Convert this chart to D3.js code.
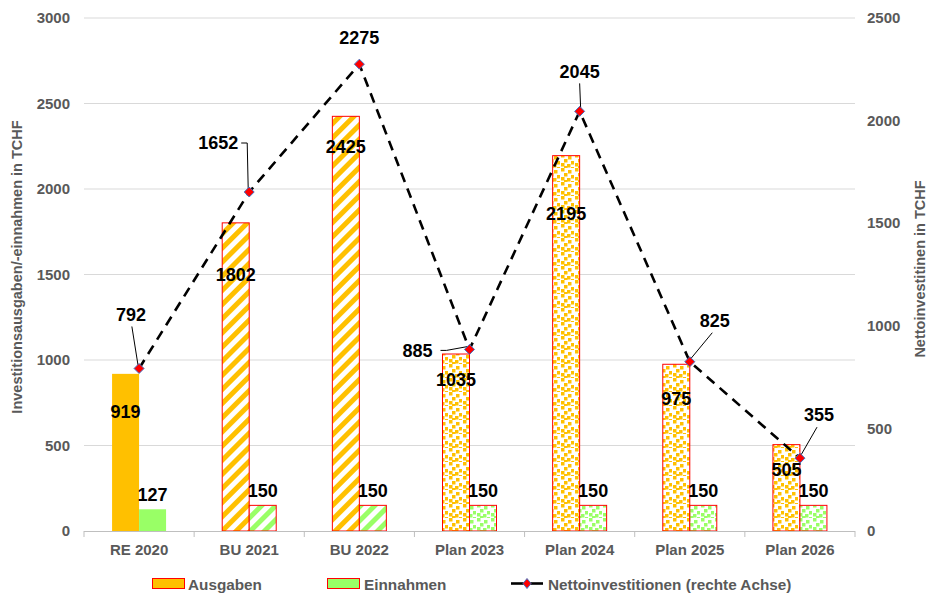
<!DOCTYPE html>
<html>
<head>
<meta charset="utf-8">
<script src="https://cdn.jsdelivr.net/npm/d3@7"></script>
<style>
  html, body { margin: 0; padding: 0; background: #fff; }
  svg { display: block; font-family: "Liberation Sans", Arial, sans-serif; }
</style>
</head>
<body>
<svg id="chart" width="928" height="593"></svg>
<script>
// Investment spending, income and net investment per year
const categories = ["RE 2020", "BU 2021", "BU 2022", "Plan 2023", "Plan 2024", "Plan 2025", "Plan 2026"];
const ausgaben   = [919, 1802, 2425, 1035, 2195, 975, 505];
const einnahmen  = [127, 150, 150, 150, 150, 150, 150];
const netto      = [792, 1652, 2275, 885, 2045, 825, 355];
// fill style per year: actual, budget, plan
const fillKind   = ["solid", "stripe", "stripe", "dots", "dots", "dots", "dots"];
const leftTicks  = [0, 500, 1000, 1500, 2000, 2500, 3000];
const rightTicks = [0, 500, 1000, 1500, 2000, 2500];

// label layout (pixel offsets)
const ausgabenLabelDy = [38, 52, 30, 26, 58, 34, 25];
const nettoLabelOffset = [[-8, -54], [-31, -49], [0, -26], [-52, 1], [0, -40], [25, -41], [19, -43]];
const nettoLeaderSide  = [false, true, false, true, false, false, false];
const nettoLeaderShow  = [true, true, false, true, true, true, true];

const svg = d3.select("#chart");
const plot = { left: 84, right: 855, top: 18, bottom: 531 };

const x = d3.scaleBand().domain(categories).range([plot.left, plot.right]);
const yL = d3.scaleLinear().domain([0, 3000]).range([plot.bottom, plot.top]);
const yR = d3.scaleLinear().domain([0, 2500]).range([plot.bottom, plot.top]);
const barW = 27;

const ORANGE = "#FFC000", GREEN = "#99FF66", RED = "#FF0000", GREY = "#595959";

// patterns
const defs = svg.append("defs");
function stripePattern(id, color) {
  const p = defs.append("pattern").attr("id", id).attr("patternUnits", "userSpaceOnUse")
    .attr("width", 10).attr("height", 10).attr("patternTransform", "rotate(45)");
  p.append("rect").attr("width", 10).attr("height", 10).attr("fill", "#fff");
  p.append("rect").attr("x", 0).attr("width", 5).attr("height", 10).attr("fill", color);
}
function dotPattern(id, color) {
  const p = defs.append("pattern").attr("id", id).attr("patternUnits", "userSpaceOnUse")
    .attr("width", 14).attr("height", 14);
  p.append("rect").attr("width", 14).attr("height", 14).attr("fill", "#fff");
  [[1, 0], [8, 2], [4, 5], [11, 7], [1, 9], [7, 10], [11, 13], [4, 12]].forEach(([a, b]) => {
    p.append("rect").attr("x", a).attr("y", b).attr("width", 3.5).attr("height", 3.5).attr("fill", color);
  });
}
stripePattern("stripeOrange", ORANGE);
stripePattern("stripeGreen", GREEN);
dotPattern("dotsOrange", ORANGE);
dotPattern("dotsGreen", GREEN);

function fillFor(kind, series) {
  if (kind === "solid") return series === "a" ? ORANGE : GREEN;
  if (kind === "stripe") return series === "a" ? "url(#stripeOrange)" : "url(#stripeGreen)";
  return series === "a" ? "url(#dotsOrange)" : "url(#dotsGreen)";
}

// gridlines
svg.append("g").selectAll("line").data(leftTicks.filter(d => d > 0)).join("line")
  .attr("x1", plot.left).attr("x2", plot.right)
  .attr("y1", d => yL(d)).attr("y2", d => yL(d))
  .attr("stroke", "#d9d9d9").attr("stroke-width", 1);

// left axis labels
svg.append("g").selectAll("text").data(leftTicks).join("text")
  .attr("x", 70).attr("y", d => yL(d)).attr("dy", "0.35em")
  .attr("text-anchor", "end").attr("font-size", 15).attr("font-weight", "bold").attr("fill", GREY)
  .text(d => d);

// right axis labels
svg.append("g").selectAll("text").data(rightTicks).join("text")
  .attr("x", 867).attr("y", d => yR(d)).attr("dy", "0.35em")
  .attr("text-anchor", "start").attr("font-size", 15).attr("font-weight", "bold").attr("fill", GREY)
  .text(d => d);

// axis titles
svg.append("text").attr("transform", "translate(22,267) rotate(-90)")
  .attr("text-anchor", "middle").attr("font-size", 14.5).attr("font-weight", "bold").attr("fill", GREY)
  .text("Investitionsausgaben/-einnahmen in TCHF");
svg.append("text").attr("transform", "translate(925,269) rotate(-90)")
  .attr("text-anchor", "middle").attr("font-size", 14.5).attr("font-weight", "bold").attr("fill", GREY)
  .text("Nettoinvestitinen in TCHF");

// bars
const bars = svg.append("g");
categories.forEach((c, i) => {
  const cx = x(c) + x.bandwidth() / 2;
  const solid = fillKind[i] === "solid";
  bars.append("rect")
    .attr("x", cx - barW).attr("y", yL(ausgaben[i]))
    .attr("width", barW).attr("height", yL(0) - yL(ausgaben[i]))
    .attr("fill", fillFor(fillKind[i], "a"))
    .attr("stroke", solid ? "none" : RED).attr("stroke-width", 1);
  bars.append("rect")
    .attr("x", cx).attr("y", yL(einnahmen[i]))
    .attr("width", barW).attr("height", yL(0) - yL(einnahmen[i]))
    .attr("fill", fillFor(fillKind[i], "e"))
    .attr("stroke", solid ? "none" : RED).attr("stroke-width", 1);
});

// x axis line and ticks
svg.append("line").attr("x1", plot.left).attr("x2", plot.right)
  .attr("y1", plot.bottom + 0.5).attr("y2", plot.bottom + 0.5)
  .attr("stroke", "#bfbfbf").attr("stroke-width", 1);
svg.append("g").selectAll("line").data(d3.range(categories.length + 1)).join("line")
  .attr("x1", i => plot.left + i * x.step()).attr("x2", i => plot.left + i * x.step())
  .attr("y1", plot.bottom).attr("y2", plot.bottom + 6)
  .attr("stroke", "#bfbfbf").attr("stroke-width", 1);
svg.append("g").selectAll("text").data(categories).join("text")
  .attr("x", d => x(d) + x.bandwidth() / 2).attr("y", 550).attr("dy", "0.35em")
  .attr("text-anchor", "middle").attr("font-size", 15).attr("font-weight", "bold").attr("fill", GREY)
  .text(d => d);

// bar value labels
const labels = svg.append("g").attr("font-size", 18).attr("font-weight", "bold").attr("fill", "#000");
categories.forEach((c, i) => {
  const cx = x(c) + x.bandwidth() / 2;
  labels.append("text").attr("x", cx - barW / 2).attr("y", yL(ausgaben[i]) + ausgabenLabelDy[i])
    .attr("dy", "0.35em").attr("text-anchor", "middle").text(ausgaben[i]);
  labels.append("text").attr("x", cx + barW / 2).attr("y", yL(einnahmen[i]) - 15)
    .attr("dy", "0.35em").attr("text-anchor", "middle").text(einnahmen[i]);
});

// net investment line
const pts = categories.map((c, i) => [x(c) + x.bandwidth() / 2, yR(netto[i])]);
svg.append("path").datum(pts)
  .attr("d", d3.line())
  .attr("fill", "none").attr("stroke", "#000").attr("stroke-width", 2.6)
  .attr("stroke-dasharray", "10,7");

// leader lines and net labels
const leaders = svg.append("g").attr("stroke", "#000").attr("stroke-width", 1).attr("fill", "none");
pts.forEach(([px, py], i) => {
  const [dx, dy] = nettoLabelOffset[i];
  const lx = px + dx, ly = py + dy;
  labels.append("text").attr("x", lx).attr("y", ly).attr("dy", "0.35em")
    .attr("text-anchor", "middle").text(netto[i]);
  if (!nettoLeaderShow[i]) return;
  if (nettoLeaderSide[i]) {
    const sx = lx + 23;
    leaders.append("path").attr("d", `M${sx},${ly} L${sx + 6},${ly} L${px - 1},${py - 3}`);
  } else {
    const sy = ly + 12;
    const sx = lx + (px - lx) * 0.1;
    leaders.append("line").attr("x1", sx).attr("y1", sy).attr("x2", px + (px > sx ? -1 : 1) * 1).attr("y2", py - 3);
  }
});

// markers
svg.append("g").selectAll("path").data(pts).join("path")
  .attr("transform", d => `translate(${d[0]},${d[1]})`)
  .attr("d", "M0,-5 L5,0 L0,5 L-5,0 Z")
  .attr("fill", "#FF0000").attr("stroke", "#4472C4").attr("stroke-width", 1);

// legend
const lg = svg.append("g").attr("font-size", 15.3).attr("font-weight", "bold").attr("fill", GREY);
lg.append("rect").attr("x", 152.5).attr("y", 578.5).attr("width", 32).attr("height", 10)
  .attr("fill", ORANGE).attr("stroke", RED);
lg.append("text").attr("x", 188).attr("y", 589.5).text("Ausgaben");
lg.append("rect").attr("x", 327.5).attr("y", 578.5).attr("width", 32).attr("height", 10)
  .attr("fill", GREEN).attr("stroke", RED);
lg.append("text").attr("x", 364).attr("y", 589.5).text("Einnahmen");
lg.append("line").attr("x1", 511).attr("x2", 543).attr("y1", 583.5).attr("y2", 583.5)
  .attr("stroke", "#000").attr("stroke-width", 2.6);
lg.append("path").attr("transform", "translate(527,583.5)").attr("d", "M0,-5 L4,0 L0,5 L-4,0 Z")
  .attr("fill", "#FF0000").attr("stroke", "#4472C4").attr("stroke-width", 1);
lg.append("text").attr("x", 548).attr("y", 589.5).text("Nettoinvestitionen (rechte Achse)");
</script>
</body>
</html>
